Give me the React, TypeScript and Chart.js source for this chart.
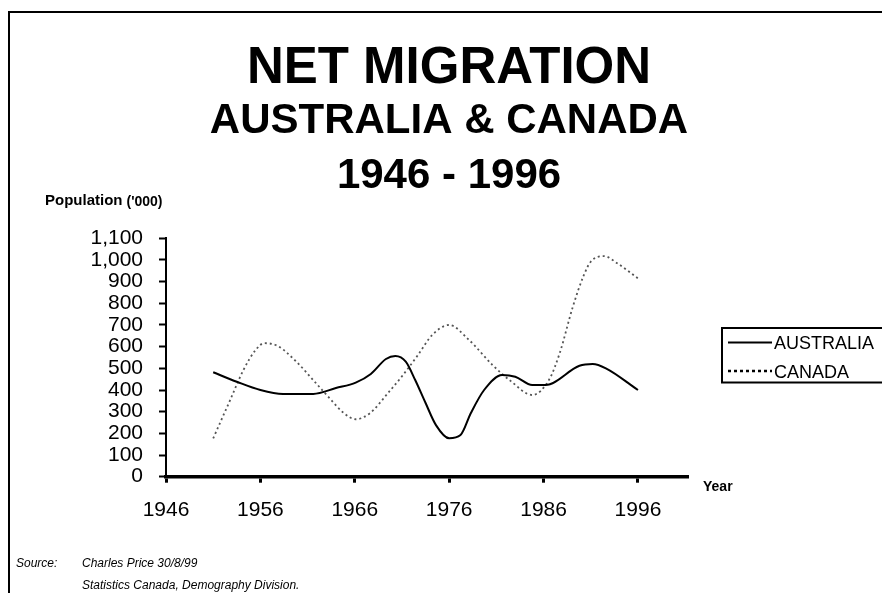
import React, { useEffect, useRef } from 'react';
import { Chart, registerables } from 'chart.js';

Chart.register(...registerables);

const FONT = '"Liberation Sans", Arial, Helvetica, sans-serif';

const TITLE = 'NET MIGRATION';
const SUBTITLE = ['AUSTRALIA & CANADA', '1946 - 1996'];
const X_TICKS = [1946, 1956, 1966, 1976, 1986, 1996];
const X_MIN = 1946;
const X_MAX = 2001.3;
const Y_MIN = 0;
const Y_MAX = 1100;
const Y_STEP = 100;
const SERIES_NAMES = ['AUSTRALIA', 'CANADA'];
const Y_LABEL = 'Population';
const Y_UNIT = "('000)";
const X_LABEL = 'Year';
const SOURCE_LABEL = 'Source:';
const SOURCE_LINES = ['Charles Price 30/8/99', 'Statistics Canada, Demography Division.'];

const AUS_YEARS = [1951, 1953.5, 1956, 1958.4, 1961.6, 1964, 1966.1, 1967.7, 1969.3, 1970.3, 1971.4, 1972.4, 1973.5, 1974.6, 1976, 1977.2, 1978.3, 1979.7, 1981.6, 1983, 1984.8, 1986.2, 1989.8, 1991.2, 1992.6, 1996];
const AUS_VALUES = [482, 438, 400, 382, 382, 409, 434, 474, 543, 557, 531, 446, 340, 238, 177, 192, 294, 400, 469, 461, 423, 423, 512, 520, 500, 400];

const CAN_YEARS = [1951, 1952.8, 1954.2, 1955.5, 1956.4, 1957.8, 1959.8, 1961.9, 1963.5, 1964.8, 1966.1, 1967.6, 1969.5, 1971.1, 1972.7, 1974.2, 1976, 1978.1, 1980.6, 1982.5, 1984.8, 1986.6, 1987.7, 1989.1, 1990.2, 1991, 1992.4, 1993.8, 1996];
const CAN_VALUES = [177, 354, 492, 585, 616, 604, 531, 431, 354, 295, 265, 293, 385, 469, 562, 654, 700, 631, 515, 442, 377, 449, 569, 784, 923, 992, 1018, 985, 915];

const decor = {
  id: 'decor',
  beforeDraw(chart: any) {
    const ctx = chart.ctx;
    ctx.save();
    ctx.fillStyle = '#fff';
    ctx.fillRect(0, 0, chart.width, chart.height);
    ctx.strokeStyle = '#000';
    ctx.lineWidth = 2;
    ctx.beginPath();
    ctx.moveTo(9, chart.height + 2);
    ctx.lineTo(9, 12);
    ctx.lineTo(chart.width + 2, 12);
    ctx.stroke();
    ctx.restore();
  },
  afterDraw(chart: any) {
    const ctx = chart.ctx;
    const ca = chart.chartArea;
    ctx.save();
    ctx.fillStyle = '#000';
    ctx.textAlign = 'left';
    ctx.textBaseline = 'alphabetic';
    // y axis caption
    ctx.font = `bold 15px ${FONT}`;
    ctx.fillText(Y_LABEL, 45, 205);
    const w = ctx.measureText(Y_LABEL).width;
    ctx.font = `bold 14px ${FONT}`;
    ctx.fillText(Y_UNIT, 45 + w + 4, 206);
    // x axis caption
    ctx.font = `bold 14px ${FONT}`;
    ctx.fillText(X_LABEL, ca.right + 15, 491);
    // source
    ctx.font = `italic 12px ${FONT}`;
    ctx.fillText(SOURCE_LABEL, 16, 567);
    SOURCE_LINES.forEach((t, i) => ctx.fillText(t, 82, 567 + i * 22));
    // legend
    const lx = ca.right + 34;
    const ly = 328;
    ctx.strokeStyle = '#000';
    ctx.lineWidth = 2;
    ctx.strokeRect(lx, ly, chart.width - lx + 10, 54.5);
    ctx.font = `18px ${FONT}`;
    chart.data.datasets.forEach((ds: any, i: number) => {
      const rowY = 342.5 + i * 28.5;
      ctx.save();
      ctx.strokeStyle = '#000';
      ctx.lineWidth = i === 0 ? 2 : 2.5;
      ctx.setLineDash(i === 0 ? [] : [3, 3]);
      ctx.beginPath();
      ctx.moveTo(lx + 6, rowY);
      ctx.lineTo(lx + 50, rowY);
      ctx.stroke();
      ctx.restore();
      ctx.fillText(ds.label, lx + 52, rowY + 6.5);
    });
    ctx.restore();
  },
};

export default function App() {
  const ref = useRef<HTMLCanvasElement | null>(null);
  useEffect(() => {
    if (!ref.current) return;
    Chart.defaults.font.family = FONT;
    const chart = new Chart(ref.current, {
      type: 'line',
      data: {
        datasets: [
          {
            label: SERIES_NAMES[0],
            data: AUS_YEARS.map((x, i) => ({ x, y: AUS_VALUES[i] })),
            borderColor: '#000',
            borderWidth: 2,
            pointRadius: 0,
            cubicInterpolationMode: 'monotone',
            fill: false,
          },
          {
            label: SERIES_NAMES[1],
            data: CAN_YEARS.map((x, i) => ({ x, y: CAN_VALUES[i] })),
            borderColor: '#555',
            borderWidth: 1.8,
            borderDash: [2, 3],
            pointRadius: 0,
            cubicInterpolationMode: 'monotone',
            fill: false,
          },
        ],
      },
      options: {
        responsive: false,
        animation: false,
        events: [],
        layout: { padding: { left: 16, right: 0, top: 0, bottom: 0 } },
        scales: {
          x: {
            type: 'linear',
            min: X_MIN,
            max: X_MAX,
            afterBuildTicks: (a: any) => {
              a.ticks = X_TICKS.map((v) => ({ value: v }));
            },
            afterFit: (s: any) => {
              s.height = 593 - 476.7;
            },
            ticks: {
              color: '#000',
              font: { size: 21 },
              padding: 15,
              maxRotation: 0,
              autoSkip: false,
              callback: (v: any) => String(v),
            },
            grid: { drawOnChartArea: false, drawTicks: true, tickLength: 6, tickColor: '#000', tickWidth: 3 },
            border: { color: '#000', width: 3.5 },
          },
          y: {
            min: Y_MIN,
            max: Y_MAX,
            afterFit: (s: any) => {
              s.width = 150;
            },
            ticks: {
              stepSize: Y_STEP,
              autoSkip: false,
              color: '#000',
              font: { size: 21 },
              padding: 16,
              callback: (v: any) => Number(v).toLocaleString('en-US'),
            },
            grid: { drawOnChartArea: false, drawTicks: true, tickLength: 7, tickColor: '#000', tickWidth: 2 },
            border: { color: '#000', width: 2 },
          },
          pad: {
            type: 'linear',
            position: 'right',
            display: true,
            ticks: { display: false },
            grid: { display: false },
            border: { display: false },
            afterFit: (s: any) => {
              s.width = 194;
            },
          },
        },
        plugins: {
          legend: { display: false },
          tooltip: { enabled: false },
          title: {
            display: true,
            text: TITLE,
            color: '#000',
            font: { size: 51, weight: 'bold', lineHeight: 1 },
            padding: { top: 43.5, bottom: 0 },
          },
          subtitle: {
            display: true,
            text: SUBTITLE,
            color: '#000',
            font: { size: 42, weight: 'bold', lineHeight: 1.3 },
            padding: { top: 0, bottom: 34.6 },
          },
        },
      },
      plugins: [decor],
    } as any);
    return () => chart.destroy();
  }, []);
  return (
    <div style={{ position: 'fixed', left: 0, top: 0, width: 882, height: 593, overflow: 'hidden', background: '#fff' }}>
      <canvas ref={ref} width={882} height={593} style={{ display: 'block' }} />
    </div>
  );
}
